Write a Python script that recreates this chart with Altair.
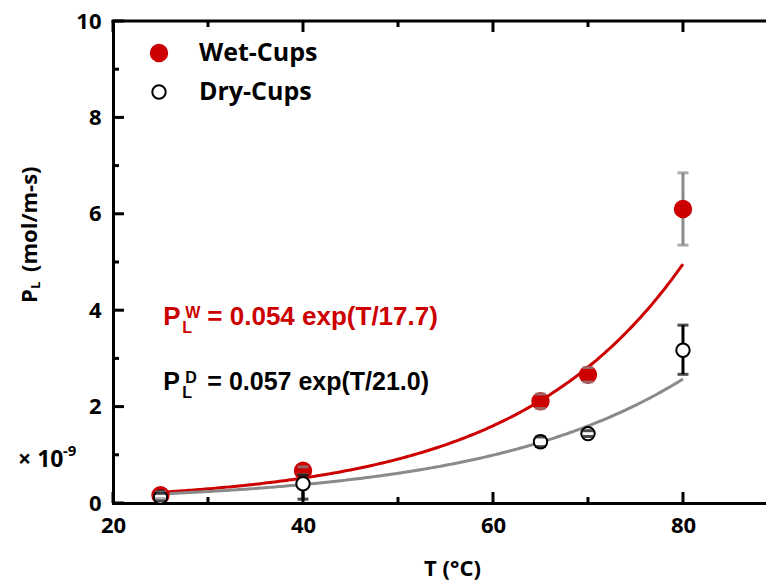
import altair as alt
import pandas as pd

# ---------------- data ----------------
T = [25, 40, 65, 70, 80]
series_names = ["Wet-Cups", "Dry-Cups"]

wet_P = [0.16, 0.67, 2.11, 2.66, 6.10]
wet_lo = [0.09, 0.59, 1.96, 2.51, 5.35]
wet_hi = [0.23, 0.75, 2.26, 2.81, 6.85]

dry_P = [0.12, 0.40, 1.27, 1.44, 3.17]
dry_lo = [0.04, 0.08, 1.17, 1.38, 2.67]
dry_hi = [0.20, 0.58, 1.37, 1.50, 3.69]

# fitted curves P = a * exp(T / tau), as printed on the chart
fit_a = [0.054, 0.057]
fit_tau = [17.7, 21.0]
fit_T = [25, 80]

x_major = [20, 40, 60, 80]
x_minor = [30, 50, 70]
y_major = [0, 2, 4, 6, 8, 10]
y_minor = [1, 3, 5, 7, 9]

# ---------------- styling ----------------
RED = "#cc0000"
GRAY = "#8a8a8a"
BLACK = "#000000"
W, H = 653, 482
AXF = "Open Sans"
EQF = "Liberation Sans"

pts = pd.DataFrame({
    "series": [series_names[0]] * len(T) + [series_names[1]] * len(T),
    "T": T + T,
    "P": wet_P + dry_P,
    "lo": wet_lo + dry_lo,
    "hi": wet_hi + dry_hi,
})

xs = alt.Scale(domain=[20, 88.74], nice=False, zero=False)
ys = alt.Scale(domain=[0, 10], nice=False, zero=False)

x_axis = alt.Axis(values=x_major, format="d", tickSize=0, grid=False,
                  domainColor=BLACK, domainWidth=3, domainCap="square",
                  labelFont=AXF, labelFontWeight="bold", labelFontSize=22,
                  labelColor=BLACK, labelPadding=12, labelFlush=False,
                  labelOverlap=False, title="T (°C)", titleFont=AXF,
                  titleFontSize=22, titleFontWeight="bold", titleColor=BLACK,
                  titleX=339, titleY=72, titleBaseline="alphabetic",
                  titleAlign="center")
y_axis = alt.Axis(values=y_major, format="d", tickSize=0, grid=False,
                  domainColor=BLACK, domainWidth=3, domainCap="square",
                  labelFont=AXF, labelFontWeight="bold", labelFontSize=22,
                  labelColor=BLACK, labelPadding=12, labelOverlap=False,
                  title=None)


def X(field):
    return alt.X(field, scale=xs, axis=x_axis)


def Y(field):
    return alt.Y(field, scale=ys, axis=y_axis)


layers = []

# fitted curves
curve_colors = [RED, GRAY]
for a, tau, col in zip(fit_a, fit_tau, curve_colors):
    layers.append(
        alt.Chart(alt.sequence(fit_T[0], fit_T[1] + 0.01, 0.25, as_="T"))
        .transform_calculate(P=f"{a} * exp(datum.T / {tau})")
        .mark_line(strokeWidth=3, color=col)
        .encode(x=X("T:Q"), y=Y("P:Q"))
    )

err_color = alt.Color("series:N", scale=alt.Scale(domain=series_names, range=[GRAY, BLACK]), legend=None)

# error bar stems
layers.append(
    alt.Chart(pts).mark_rule(strokeWidth=3)
    .encode(x=X("T:Q"), y=Y("lo:Q"), y2="hi:Q", color=err_color)
)

fill_enc = alt.Fill("series:N", scale=alt.Scale(domain=series_names, range=[RED, "white"]), legend=None)
stroke_enc = alt.Stroke("series:N", scale=alt.Scale(domain=series_names, range=[RED, BLACK]), legend=None)
size_enc = alt.Size("series:N", scale=alt.Scale(domain=series_names, range=[270, 180]), legend=None)

# points
layers.append(
    alt.Chart(pts).mark_point(filled=True, strokeWidth=2, opacity=1)
    .encode(x=X("T:Q"), y=Y("P:Q"), fill=fill_enc, stroke=stroke_enc, size=size_enc)
)

# error bar caps
for f in ["lo", "hi"]:
    layers.append(
        alt.Chart(pts).mark_tick(orient="horizontal", size=11, thickness=3)
        .encode(x=X("T:Q"), y=Y(f"{f}:Q"), color=err_color)
    )

# legend (drawn by hand, in the plot's top-left corner)
legend_y = [32, 71]
for name, ly in zip(series_names, legend_y):
    d = pd.DataFrame({"series": [name]})
    layers.append(
        alt.Chart(d).mark_point(filled=True, strokeWidth=2, opacity=1)
        .encode(x=alt.value(46), y=alt.value(ly), fill=fill_enc, stroke=stroke_enc, size=size_enc)
    )
    layers.append(
        alt.Chart(d).mark_text(font=AXF, fontWeight="bold", fontSize=25, color=BLACK,
                               align="left", baseline="middle")
        .encode(x=alt.value(86), y=alt.value(ly), text="series:N")
    )


# inward tick marks
def yticks(vals, length):
    d = pd.DataFrame({"v": vals})
    return [alt.Chart(d).mark_rule(strokeWidth=3, color=BLACK).encode(
        y=Y("v:Q"), x=alt.value(0), x2=alt.value(length))]


def xticks(vals, length):
    d = pd.DataFrame({"v": vals})
    bottom = alt.Chart(d).mark_rule(strokeWidth=3, color=BLACK).encode(
        x=X("v:Q"), y=alt.value(H - length), y2=alt.value(H))
    top = alt.Chart(d).mark_rule(strokeWidth=3, color=BLACK).encode(
        x=X("v:Q"), y=alt.value(0), y2=alt.value(length))
    return [bottom, top]


layers += yticks(y_major, 11) + yticks(y_minor, 6) + xticks(x_major, 11) + xticks(x_minor, 6)

# top frame line
one = pd.DataFrame({"k": [0]})
layers.append(alt.Chart(one).mark_rule(strokeWidth=3, color=BLACK, strokeCap="square")
              .encode(x=alt.value(0), x2=alt.value(W + 5), y=alt.value(0)))

# equations
eq_x = 25.3
eq_y = [3.69, 2.34]
eq_sup = ["W", "D"]
eq_col = [RED, BLACK]
eq_size = [26, 25]
for a, tau, yy, sup, col, fs in zip(fit_a, fit_tau, eq_y, eq_sup, eq_col, eq_size):
    rest = f"= {a:.3f} exp(T/{tau:.1f})"
    layers.append(alt.Chart(pd.DataFrame({"t": ["P"]})).mark_text(
        font=EQF, fontWeight="bold", fontSize=fs, color=col, align="left", baseline="alphabetic")
        .encode(x=alt.datum(eq_x), y=alt.datum(yy), text="t:N"))
    layers.append(alt.Chart(pd.DataFrame({"t": ["L"]})).mark_text(
        font=EQF, fontWeight="bold", fontSize=16, color=col, align="left",
        baseline="alphabetic", dx=19, dy=8)
        .encode(x=alt.datum(eq_x), y=alt.datum(yy), text="t:N"))
    layers.append(alt.Chart(pd.DataFrame({"t": [sup]})).mark_text(
        font=EQF, fontWeight="bold", fontSize=16, color=col, align="left",
        baseline="alphabetic", dx=22, dy=-7)
        .encode(x=alt.datum(eq_x), y=alt.datum(yy), text="t:N"))
    layers.append(alt.Chart(pd.DataFrame({"t": [rest]})).mark_text(
        font=EQF, fontWeight="bold", fontSize=fs, color=col, align="left",
        baseline="alphabetic", dx=44)
        .encode(x=alt.datum(eq_x), y=alt.datum(yy), text="t:N"))


# y-axis title (P_L (mol/m-s)) and multiplier
def txt(s, x, y, size, angle=0):
    return alt.Chart(pd.DataFrame({"t": [s]})).mark_text(
        font=AXF, fontWeight="bold", fontSize=size, color=BLACK, align="left",
        baseline="alphabetic", angle=angle
    ).encode(x=alt.value(x), y=alt.value(y), text="t:N")


layers.append(txt("P", -76, 282, 22, 270))
layers.append(txt("L", -73, 268, 13, 270))
layers.append(txt("(mol/m-s)", -76, 251, 22, 270))
layers.append(txt("× 10", -95, 446, 23))
layers.append(txt("-9", -50, 435, 15))

chart = (
    alt.layer(*layers)
    .properties(width=W, height=H,
                padding={"left": 105, "top": 13, "right": 0, "bottom": 85},
                autosize=alt.AutoSizeParams(type="none"))
    .configure_view(strokeWidth=0)
    .configure(background="white")
)

chart.save("out.html", embed_options={"renderer": "svg", "actions": False})
